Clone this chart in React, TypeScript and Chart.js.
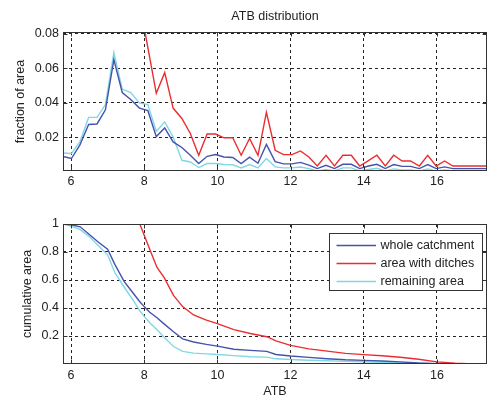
import React, { useEffect, useRef } from "react";
import { Chart, registerables } from "chart.js";

Chart.register(...registerables);

// ---------- data ----------
const atbBins = [
  5.78, 6.01, 6.24, 6.48, 6.71, 6.94, 7.17, 7.4, 7.63, 7.87, 8.1, 8.33, 8.56, 8.79, 9.03, 9.26, 9.49,
  9.72, 9.95, 10.18, 10.42, 10.65, 10.88, 11.11, 11.34, 11.58, 11.81, 12.04, 12.27, 12.5, 12.73, 12.97,
  13.2, 13.43, 13.66, 13.89, 14.13, 14.36, 14.59, 14.82, 15.05, 15.28, 15.52, 15.75, 15.98, 16.21, 16.44,
  16.68, 16.91, 17.14, 17.37,
];

const distWhole = [
  0.009, 0.0078, 0.0155, 0.0275, 0.0278, 0.036, 0.065, 0.046, 0.042, 0.037, 0.0355, 0.0205, 0.0255,
  0.0174, 0.0142, 0.0097, 0.0049, 0.0091, 0.0101, 0.0087, 0.0084, 0.0049, 0.0086, 0.0051, 0.016, 0.006,
  0.0047, 0.0047, 0.0056, 0.004, 0.002, 0.0039, 0.002, 0.0045, 0.0045, 0.002, 0.0035, 0.0045, 0.002,
  0.0043, 0.0033, 0.0033, 0.002, 0.0043, 0.002, 0.003, 0.002, 0.002, 0.002, 0.002, 0.002,
];

const distDitches = [
  null, null, null, null, null, null, null, null, null, 0.098, 0.072, 0.0455, 0.0575, 0.037, 0.031,
  0.0223, 0.0097, 0.022, 0.022, 0.0198, 0.0198, 0.0097, 0.0194, 0.0097, 0.0345, 0.0126, 0.0101, 0.0101,
  0.0122, 0.0087, 0.0035, 0.0097, 0.0035, 0.0097, 0.0097, 0.0035, 0.0066, 0.0097, 0.0035, 0.0097, 0.0064,
  0.0064, 0.0035, 0.0097, 0.0035, 0.0064, 0.0035, 0.0035, 0.0035, 0.0035, 0.0035,
];

const distRemaining = [
  0.011, 0.0107, 0.0174, 0.0316, 0.0316, 0.039, 0.069, 0.048, 0.046, 0.04, 0.039, 0.0235, 0.029, 0.0203,
  0.0068, 0.0058, 0.0026, 0.0049, 0.0049, 0.0044, 0.0042, 0.0024, 0.0043, 0.0024, 0.0078, 0.003, 0.0024,
  0.0024, 0.0029, 0.002, 0.0007, 0.0015, 0.0007, 0.0024, 0.0024, 0.0007, 0.0015, 0.0022, 0.0007, 0.0018,
  0.0012, 0.0012, 0.0007, 0.0018, 0.0007, 0.0012, 0.0007, 0.0007, 0.0007, 0.0007, 0.0007,
];

const cumAtb = [
  5.78, 6.0, 6.25, 6.5, 6.75, 7.0, 7.2, 7.45, 7.7, 7.88, 8.0, 8.15, 8.35, 8.55, 8.8, 9.05, 9.35, 9.7,
  10.0, 10.45, 10.9, 11.35, 11.6, 12.0, 12.5, 13.0, 13.5, 14.0, 14.5, 15.0, 15.5, 16.0, 16.5, 17.0, 17.37,
];

const cumWhole = [
  1.0, 0.995, 0.98, 0.925, 0.87, 0.82, 0.71, 0.59, 0.505, 0.445, 0.41, 0.37, 0.33, 0.285, 0.23, 0.18,
  0.157, 0.14, 0.128, 0.105, 0.097, 0.09, 0.068, 0.057, 0.047, 0.038, 0.03, 0.026, 0.021, 0.015, 0.007,
  0.003, 0.001, 0, 0,
];

const cumDitches = [
  null, null, null, null, null, null, null, null, null, 1.0, 0.92, 0.82, 0.69, 0.615, 0.49, 0.41, 0.35,
  0.313, 0.289, 0.245, 0.218, 0.195, 0.165, 0.133, 0.108, 0.092, 0.076, 0.067, 0.059, 0.048, 0.034,
  0.015, 0.005, 0.001, 0,
];

const cumRemaining = [
  1.0, 0.985, 0.96, 0.91, 0.845, 0.78, 0.65, 0.55, 0.455, 0.38, 0.34, 0.295, 0.245, 0.19, 0.125, 0.09,
  0.078, 0.072, 0.068, 0.06, 0.052, 0.049, 0.037, 0.032, 0.027, 0.023, 0.019, 0.016, 0.012, 0.009, 0.006,
  0.003, 0.001, 0, 0,
];

const xTicks = [6, 8, 10, 12, 14, 16];
const topYTicks = [0.02, 0.04, 0.06, 0.08];
const bottomYTicks = [0.2, 0.4, 0.6, 0.8, 1];
const seriesLabels = ["whole catchment", "area with ditches", "remaining area"];
const seriesColors = ["#4553ad", "#ea2e30", "#80d8e4"];

// ---------- styling ----------
const FONT_FAMILY = "'Liberation Sans', Arial, Helvetica, sans-serif";
const FONT_SIZE = 12.5;
const TEXT_COLOR = "#222";
const X_MIN = 5.78;
const X_MAX = 17.37;

function pts(xs: number[], ys: (number | null)[]) {
  return xs.map((x, i) => ({ x, y: ys[i] }));
}

const framePlugin = {
  id: "frame",
  afterDatasetsDraw(chart: any) {
    const { ctx, chartArea: a, scales } = chart;
    ctx.save();
    ctx.strokeStyle = "#333";
    ctx.lineWidth = 1;
    const l = Math.round(a.left) + 0.5;
    const t = Math.round(a.top) + 0.5;
    const r = Math.round(a.right) - 0.5;
    const b = Math.round(a.bottom) - 0.5;
    ctx.strokeRect(l, t, r - l, b - t);
    const tl = 4;
    ctx.beginPath();
    scales.x.ticks.forEach((tk: any) => {
      const px = Math.round(scales.x.getPixelForValue(tk.value)) + 0.5;
      ctx.moveTo(px, b);
      ctx.lineTo(px, b - tl);
      ctx.moveTo(px, t);
      ctx.lineTo(px, t + tl);
    });
    scales.y.ticks.forEach((tk: any) => {
      const py = Math.round(scales.y.getPixelForValue(tk.value)) + 0.5;
      ctx.moveTo(l, py);
      ctx.lineTo(l + tl, py);
      ctx.moveTo(r, py);
      ctx.lineTo(r - tl, py);
    });
    ctx.stroke();
    ctx.restore();
  },
};

const boxLegendPlugin = {
  id: "boxLegend",
  afterDraw(chart: any) {
    const { ctx, chartArea: a } = chart;
    const w = 153;
    const h = 57;
    const x0 = Math.round(a.right - 5 - w) + 0.5;
    const y0 = Math.round(a.top + 9) + 0.5;
    ctx.save();
    ctx.fillStyle = "#ffffff";
    ctx.fillRect(x0, y0, w, h);
    ctx.strokeStyle = "#333";
    ctx.lineWidth = 1;
    ctx.strokeRect(x0, y0, w, h);
    chart.data.datasets.forEach((ds: any, i: number) => {
      const y = Math.round(y0 + 11 + i * 18) + 0.5;
      ctx.strokeStyle = ds.borderColor;
      ctx.lineWidth = 1.3;
      ctx.beginPath();
      ctx.moveTo(x0 + 7, y);
      ctx.lineTo(x0 + 46.5, y);
      ctx.stroke();
      ctx.fillStyle = TEXT_COLOR;
      ctx.font = `${FONT_SIZE}px ${FONT_FAMILY}`;
      ctx.textBaseline = "middle";
      ctx.textAlign = "left";
      ctx.fillText(ds.label, x0 + 51, y);
    });
    ctx.restore();
  },
};

const font = { family: FONT_FAMILY, size: FONT_SIZE };

function makeXScale(height: number, pad: number, title?: string) {
  return {
    type: "linear",
    min: X_MIN,
    max: X_MAX,
    afterBuildTicks: (s: any) => {
      s.ticks = xTicks.map((v) => ({ value: v }));
    },
    afterFit: (s: any) => {
      s.height = height;
    },
    grid: { color: "#222", lineWidth: 1, drawTicks: false },
    border: { display: false, dash: [3, 3] },
    ticks: {
      font,
      color: TEXT_COLOR,
      padding: pad,
      maxRotation: 0,
      autoSkip: false,
      callback: (v: any) => String(v),
    },
    title: title
      ? {
          display: true,
          text: title,
          font: { ...font, lineHeight: 1.1 },
          color: TEXT_COLOR,
          padding: { top: 0, bottom: 0 },
        }
      : { display: false },
  };
}

function makeYScale(min: number, max: number, ticks: number[], fmt: (v: number) => string, title: string, titlePad: number) {
  return {
    type: "linear",
    min,
    max,
    afterBuildTicks: (s: any) => {
      s.ticks = ticks.map((v) => ({ value: v }));
    },
    afterFit: (s: any) => {
      s.width = 63;
    },
    grid: { color: "#222", lineWidth: 1, drawTicks: false },
    border: { display: false, dash: [3, 3] },
    ticks: { font, color: TEXT_COLOR, padding: 4, callback: (v: any) => fmt(Number(v)) },
    title: {
      display: true,
      text: title,
      font: { ...font, lineHeight: 1.2 },
      color: TEXT_COLOR,
      padding: { top: titlePad, bottom: 0 },
    },
  };
}

function datasets(xs: number[], series: (number | null)[][]) {
  return series.map((ys, i) => ({
    label: seriesLabels[i],
    data: pts(xs, ys),
    borderColor: seriesColors[i],
    backgroundColor: seriesColors[i],
    borderWidth: 1.4,
    pointRadius: 0,
    tension: 0,
    fill: false,
    spanGaps: false,
  }));
}

function ChartCanvas({ top, height, config }: { top: number; height: number; config: any }) {
  const ref = useRef<HTMLCanvasElement | null>(null);
  useEffect(() => {
    if (!ref.current) return;
    const chart = new Chart(ref.current, config);
    return () => chart.destroy();
  }, []);
  return (
    <canvas
      ref={ref}
      width={489}
      height={height}
      style={{ position: "absolute", left: 0, top, width: 489, height, display: "block" }}
    />
  );
}

const topConfig = {
  type: "line",
  data: { datasets: datasets(atbBins, [distWhole, distDitches, distRemaining]) },
  options: {
    responsive: false,
    animation: false,
    devicePixelRatio: 1,
    layout: { padding: { left: 0, right: 2, top: 0, bottom: 0 } },
    plugins: {
      legend: { display: false },
      tooltip: { enabled: false },
      title: {
        display: true,
        text: "ATB distribution",
        fullSize: false,
        font: { ...font, weight: "normal", lineHeight: 1.2 },
        color: TEXT_COLOR,
        padding: { top: 9, bottom: 8 },
      },
    },
    scales: {
      x: makeXScale(19, 3),
      y: makeYScale(0.0006, 0.081, topYTicks, (v) => v.toFixed(2), "fraction of area", 13),
    },
  },
  plugins: [framePlugin],
};

const bottomConfig = {
  type: "line",
  data: { datasets: datasets(cumAtb, [cumWhole, cumDitches, cumRemaining]) },
  options: {
    responsive: false,
    animation: false,
    devicePixelRatio: 1,
    layout: { padding: { left: 0, right: 2, top: 34, bottom: 0 } },
    plugins: { legend: { display: false }, tooltip: { enabled: false } },
    scales: {
      x: makeXScale(34, 4.5, "ATB"),
      y: makeYScale(0, 1, bottomYTicks, (v) => String(v), "cumulative area", 20.5),
    },
  },
  plugins: [framePlugin, boxLegendPlugin],
};

export default function App() {
  return (
    <div style={{ position: "absolute", left: 0, top: 0, width: 489, height: 398, background: "#fff" }}>
      <ChartCanvas top={0} height={190} config={topConfig} />
      <ChartCanvas top={190} height={208} config={bottomConfig} />
    </div>
  );
}
